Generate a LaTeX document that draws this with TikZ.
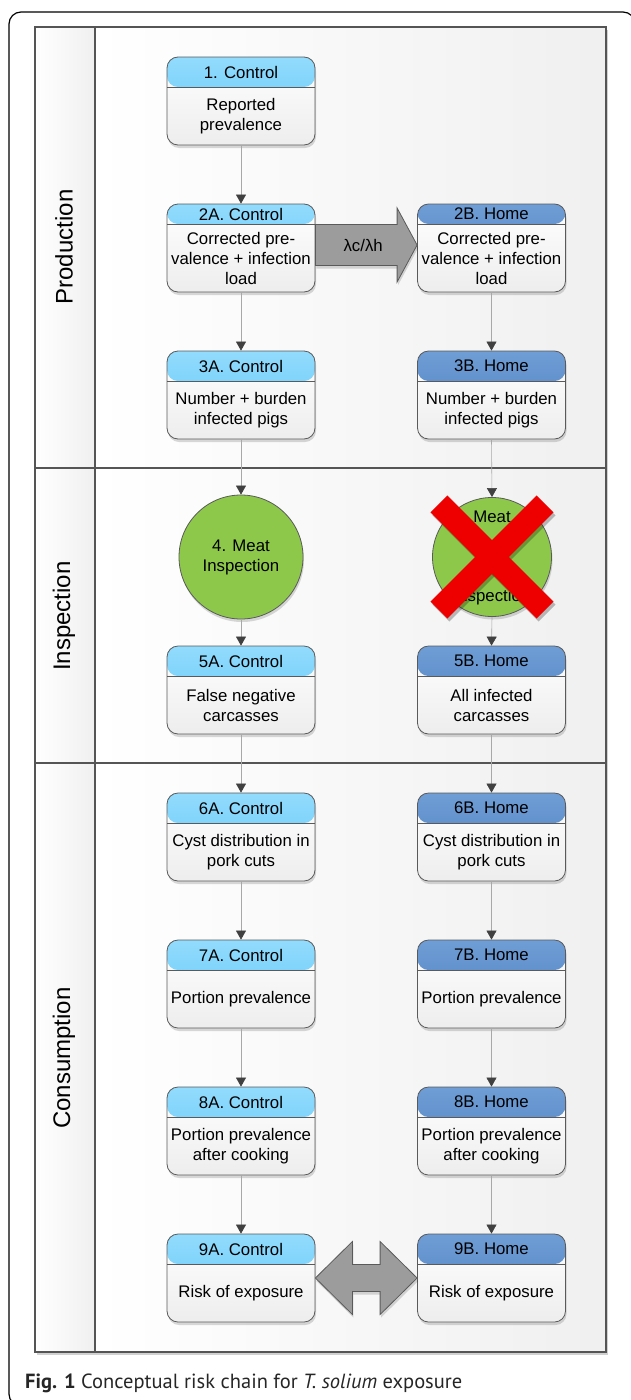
\documentclass[tikz,border=0pt]{standalone}
\usepackage{fontspec}
\setmainfont{Liberation Sans}
\newfontfamily\capfont{PT Sans}
\usetikzlibrary{arrows.meta,calc,shadows}
\definecolor{ctrlTop}{HTML}{92DBFD}
\definecolor{ctrlBot}{HTML}{5EC6F6}
\definecolor{homeTop}{HTML}{6F9DD5}
\definecolor{homeBot}{HTML}{4A7DBE}
\definecolor{edgegray}{HTML}{5A5A5A}
\definecolor{lanegray}{HTML}{555555}
\definecolor{linegray}{HTML}{A8A8A8}
\definecolor{headgray}{HTML}{404040}
\definecolor{greenfill}{HTML}{8DC84B}
\definecolor{xred}{HTML}{EE0000}
\definecolor{fatgray}{HTML}{9C9C9C}
\tikzset{
  txt/.style={font=\fontsize{16.8}{20}\selectfont, align=center, inner sep=0pt},
  lanelbl/.style={font=\fontsize{24}{28}\selectfont, inner sep=0pt, rotate=90},
  box/.style={rectangle, rounded corners=11pt, minimum width=148pt, minimum height=88pt,
    inner sep=0pt, draw=edgegray, line width=0.8pt, top color=white, bottom color=gray!14,
    drop shadow={shadow xshift=1pt, shadow yshift=-3pt, fill=black, opacity=0.15}},
  hdr/.style n args={3}{path picture={
    \shade[top color=#1, bottom color=#2] (path picture bounding box.north west) rectangle ([yshift=-#3pt]path picture bounding box.north east);
    \draw[edgegray, line width=0.6pt] ([yshift=-#3pt]path picture bounding box.north west) -- ([yshift=-#3pt]path picture bounding box.north east);}},
  ctrl/.style={hdr={ctrlTop}{ctrlBot}{#1}},
  home/.style={hdr={homeTop}{homeBot}{#1}},
  circ/.style={circle, draw=edgegray, line width=0.8pt, fill=greenfill, inner sep=0pt,
    drop shadow={shadow xshift=1pt, shadow yshift=-3pt, fill=black, opacity=0.15}},
  conn/.style={draw=linegray, line width=0.6pt, -{Triangle[length=9pt, width=10pt, color=headgray, fill=headgray]}},
  fat/.style={draw=edgegray, line width=0.8pt, fill=fatgray,
    drop shadow={shadow xshift=1pt, shadow yshift=-3pt, fill=black, opacity=0.15}},
  lane/.style={draw=lanegray, line width=1.2pt}
}
% name, x, top, header height, header style, header text, body text
\newcommand\pbox[7]{%
  \node[box, #5={#4}] (#1) at (#2, #3+44) {};
  \node[txt] (#1h) at (#2, #3+#4/2) {#6};
  \node[txt] (#1b) at (#2, #3+#4/2+44) {#7};
}
\begin{document}
\begin{tikzpicture}[x=1pt, y=-1pt]
\useasboundingbox (0,0) rectangle (630,1400);
% outer frame
\draw[black, line width=1.2pt, rounded corners=12pt] (9,12) rectangle (635,1406);
% swimlanes
\fill[black, opacity=0.18] (37,30) rectangle (608,1355);
\shade[left color=white, right color=gray!12] (95,27) rectangle (606,1352);
\shade[left color=white, right color=gray!12] (35,27) rectangle (95,1352);
\draw[lane] (35,27) rectangle (606,1352);
\draw[lane] (95,27) -- (95,1352);
\draw[lane] (35,468) -- (606,468);
\draw[lane] (35,763) -- (606,763);
\node[lanelbl] (lp) at (64,247) {Production};
\node[lanelbl] (li) at (64,616) {Inspection};
\node[lanelbl] (lc) at (64,1058) {Consumption};
% boxes, control
\pbox{n1}{241}{57}{30}{ctrl}{1. Control}{Reported\\prevalence}
\pbox{n2a}{241}{204}{20}{ctrl}{2A. Control}{Corrected pre-\\valence + infection\\load}
\pbox{n3a}{241}{351}{30}{ctrl}{3A. Control}{Number + burden\\infected pigs}
\pbox{n5a}{241}{646}{30}{ctrl}{5A. Control}{False negative\\carcasses}
\pbox{n6a}{241}{793}{30}{ctrl}{6A. Control}{Cyst distribution in\\pork cuts}
\pbox{n7a}{241}{940}{30}{ctrl}{7A. Control}{Portion prevalence}
\pbox{n8a}{241}{1087}{30}{ctrl}{8A. Control}{Portion prevalence\\after cooking}
\pbox{n9a}{241}{1234}{30}{ctrl}{9A. Control}{Risk of exposure}
% boxes, home
\pbox{n2b}{491.5}{204}{20}{home}{2B. Home}{Corrected pre-\\valence + infection\\load}
\pbox{n3b}{491.5}{351}{30}{home}{3B. Home}{Number + burden\\infected pigs}
\pbox{n5b}{491.5}{646}{30}{home}{5B. Home}{All infected\\carcasses}
\pbox{n6b}{491.5}{793}{30}{home}{6B. Home}{Cyst distribution in\\pork cuts}
\pbox{n7b}{491.5}{940}{30}{home}{7B. Home}{Portion prevalence}
\pbox{n8b}{491.5}{1087}{30}{home}{8B. Home}{Portion prevalence\\after cooking}
\pbox{n9b}{491.5}{1234}{30}{home}{9B. Home}{Risk of exposure}
% inspection circles
\node[circ, minimum size=124pt] (c4a) at (241,557) {};
\node[txt] (c4at) at (241,557) {4. Meat\\Inspection};
\node[circ, minimum size=119pt] (c4b) at (492,557) {};
\node[txt] (c4bt1) at (492,517) {Meat};
\node[txt] (c4bt2) at (492,597) {Inspection};
% red cross
\begin{scope}[shift={(c4b.center)}]
  \fill[black, opacity=0.25, shift={(2,3)}, rotate=45] (-75,-12) rectangle (75,12);
  \fill[black, opacity=0.25, shift={(2,3)}, rotate=-45] (-75,-12) rectangle (75,12);
  \fill[xred, rotate=45] (-75,-12) rectangle (75,12);
  \fill[xred, rotate=-45] (-75,-12) rectangle (75,12);
\end{scope}
% vertical connectors
\draw[conn] (n1.south) -- (n2a.north);
\draw[conn] (n2a.south) -- (n3a.north);
\draw[conn] (n3a.south) -- (c4a.north);
\draw[conn] (c4a.south) -- (n5a.north);
\draw[conn] (n5a.south) -- (n6a.north);
\draw[conn] (n6a.south) -- (n7a.north);
\draw[conn] (n7a.south) -- (n8a.north);
\draw[conn] (n8a.south) -- (n9a.north);
\draw[conn] (n2b.south) -- (n3b.north);
\draw[conn] (n3b.south) -- (c4b.north);
\draw[conn] (c4b.south) -- (n5b.north);
\draw[conn] (n5b.south) -- (n6b.north);
\draw[conn] (n6b.south) -- (n7b.north);
\draw[conn] (n7b.south) -- (n8b.north);
\draw[conn] (n8b.south) -- (n9b.north);
% fat arrow lambda
\path ($(n2a.east)+(0,-3)$) coordinate (la) ($(n2b.west)+(0,-3)$) coordinate (lb);
\draw[fat] ($(la)+(0,-20.5)$) -- ($(lb)+(-20,-20.5)$) -- ($(lb)+(-20,-37)$) -- (lb)
  -- ($(lb)+(-20,37)$) -- ($(lb)+(-20,20.5)$) -- ($(la)+(0,20.5)$) -- cycle;
\node[txt] (lam) at ($(la)!0.47!(lb)$) {λc/λh};
% double arrow
\path (n9a.east) coordinate (da) (n9b.west) coordinate (db);
\draw[fat] (da) -- ($(da)+(37,-36.5)$) -- ($(da)+(37,-13.5)$) -- ($(db)+(-37,-13.5)$)
  -- ($(db)+(-37,-36.5)$) -- (db) -- ($(db)+(-37,36.5)$) -- ($(db)+(-37,13.5)$)
  -- ($(da)+(37,13.5)$) -- ($(da)+(37,36.5)$) -- cycle;
% caption
\node[anchor=base west, inner sep=0pt, font=\capfont\fontsize{20.5}{24}\selectfont, text=black!85] (cap) at (25,1388)
  {\textbf{Fig. 1} Conceptual risk chain for \textit{T. solium} exposure};
\end{tikzpicture}
\end{document}
